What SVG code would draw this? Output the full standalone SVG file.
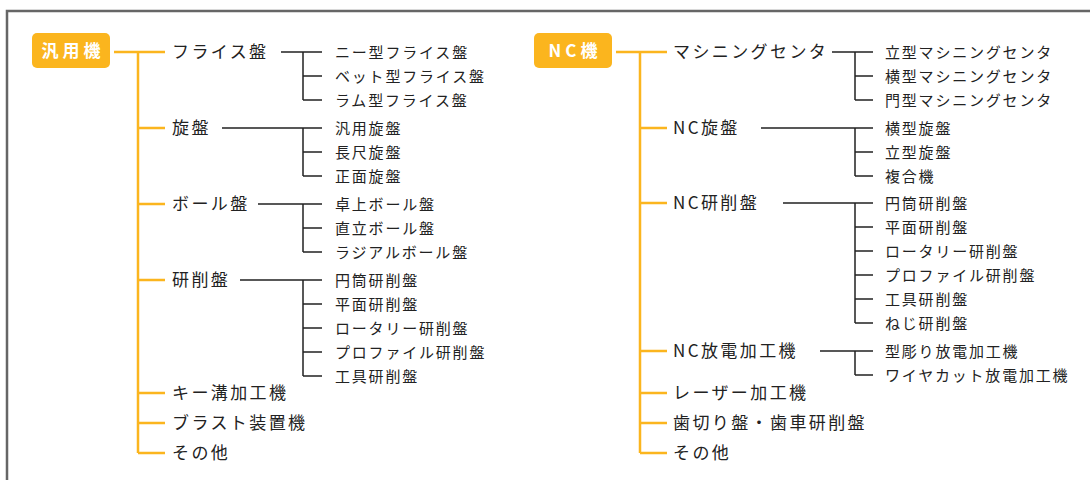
<svg xmlns="http://www.w3.org/2000/svg" width="1090" height="480" viewBox="0 0 1090 480">
<style>
.frame{fill:none;stroke:#666;stroke-width:2.5}
.root{fill:#FBB51E}
.rt{font-family:"Noto Sans CJK JP","Noto Sans",sans-serif;font-size:17px;font-weight:bold;fill:#fff;letter-spacing:4px;text-anchor:middle}
.c{font-family:"Noto Sans CJK JP","Noto Sans",sans-serif;font-size:17px;fill:#222;letter-spacing:2.4px}
.l{font-family:"Noto Sans CJK JP","Noto Sans",sans-serif;font-size:15px;fill:#222;letter-spacing:1.8px}
.o{fill:none;stroke:#FBB51E;stroke-width:2.5}
.k{fill:none;stroke:#222;stroke-width:1.5}
</style>
<rect class="frame" x="7" y="11" width="1110" height="500"/>
<g id="connectors">
<path class="o" d="M114 52H165M138 52V453M138 128H165M138 204H165M138 280H165M138 393H165M138 423H165M138 453H165"/>
<path class="k" d="M281 52H322M303 52V100M303 76H322M303 100H322"/>
<path class="k" d="M222 128H322M303 128V176M303 152H322M303 176H322"/>
<path class="k" d="M258 204H322M303 204V252M303 228H322M303 252H322"/>
<path class="k" d="M240 280H322M303 280V376M303 304H322M303 328H322M303 352H322M303 376H322"/>
<path class="o" d="M616 52H667M640 52V453M640 128H667M640 203H667M640 351H667M640 393H667M640 423H667M640 453H667"/>
<path class="k" d="M832 52H873M855 52V100M855 76H873M855 100H873"/>
<path class="k" d="M761 128H873M855 128V176M855 152H873M855 176H873"/>
<path class="k" d="M783 203H873M855 203V323M855 227H873M855 251H873M855 275H873M855 299H873M855 323H873"/>
<path class="k" d="M820 351H873M855 351V375M855 375H873"/>
</g>
<g id="root-general"><rect class="root" x="32" y="33" width="78" height="35" rx="5"/><text class="rt" x="73" y="57">汎用機</text></g>
<g id="root-nc"><rect class="root" x="534" y="33" width="78" height="35" rx="5"/><text class="rt" x="575" y="57">NC機</text></g>
<g id="n-milling"><text class="c" x="172" y="58">フライス盤</text></g>
<g id="n-lathe"><text class="c" x="172" y="134">旋盤</text></g>
<g id="n-drill"><text class="c" x="172" y="210">ボール盤</text></g>
<g id="n-grinder"><text class="c" x="172" y="286">研削盤</text></g>
<g id="n-keyseat"><text class="c" x="172" y="399">キー溝加工機</text></g>
<g id="n-blast"><text class="c" x="172" y="429">ブラスト装置機</text></g>
<g id="n-other1"><text class="c" x="172" y="459">その他</text></g>
<g id="l-mill"><text class="l" x="335" y="57.5">ニー型フライス盤</text><text class="l" x="335" y="81.5">ベット型フライス盤</text><text class="l" x="335" y="105.5">ラム型フライス盤</text></g>
<g id="l-lathe"><text class="l" x="335" y="133.5">汎用旋盤</text><text class="l" x="335" y="157.5">長尺旋盤</text><text class="l" x="335" y="181.5">正面旋盤</text></g>
<g id="l-drill"><text class="l" x="335" y="209.5">卓上ボール盤</text><text class="l" x="335" y="233.5">直立ボール盤</text><text class="l" x="335" y="257.5">ラジアルボール盤</text></g>
<g id="l-grind"><text class="l" x="335" y="285.5">円筒研削盤</text><text class="l" x="335" y="309.5">平面研削盤</text><text class="l" x="335" y="333.5">ロータリー研削盤</text><text class="l" x="335" y="357.5">プロファイル研削盤</text><text class="l" x="335" y="381.5">工具研削盤</text></g>
<g id="n-mc"><text class="c" x="673" y="58">マシニングセンタ</text></g>
<g id="n-nclathe"><text class="c" x="673" y="134">NC旋盤</text></g>
<g id="n-ncgrind"><text class="c" x="673" y="209">NC研削盤</text></g>
<g id="n-edm"><text class="c" x="673" y="357">NC放電加工機</text></g>
<g id="n-laser"><text class="c" x="673" y="399">レーザー加工機</text></g>
<g id="n-gear"><text class="c" x="673" y="429">歯切り盤・歯車研削盤</text></g>
<g id="n-other2"><text class="c" x="673" y="459">その他</text></g>
<g id="l-mc"><text class="l" x="885" y="57.5">立型マシニングセンタ</text><text class="l" x="885" y="81.5">横型マシニングセンタ</text><text class="l" x="885" y="105.5">門型マシニングセンタ</text></g>
<g id="l-nclathe"><text class="l" x="885" y="133.5">横型旋盤</text><text class="l" x="885" y="157.5">立型旋盤</text><text class="l" x="885" y="181.5">複合機</text></g>
<g id="l-ncgrind"><text class="l" x="885" y="208.5">円筒研削盤</text><text class="l" x="885" y="232.5">平面研削盤</text><text class="l" x="885" y="256.5">ロータリー研削盤</text><text class="l" x="885" y="280.5">プロファイル研削盤</text><text class="l" x="885" y="304.5">工具研削盤</text><text class="l" x="885" y="328.5">ねじ研削盤</text></g>
<g id="l-edm"><text class="l" x="885" y="356.5">型彫り放電加工機</text><text class="l" x="885" y="380.5">ワイヤカット放電加工機</text></g>
</svg>
